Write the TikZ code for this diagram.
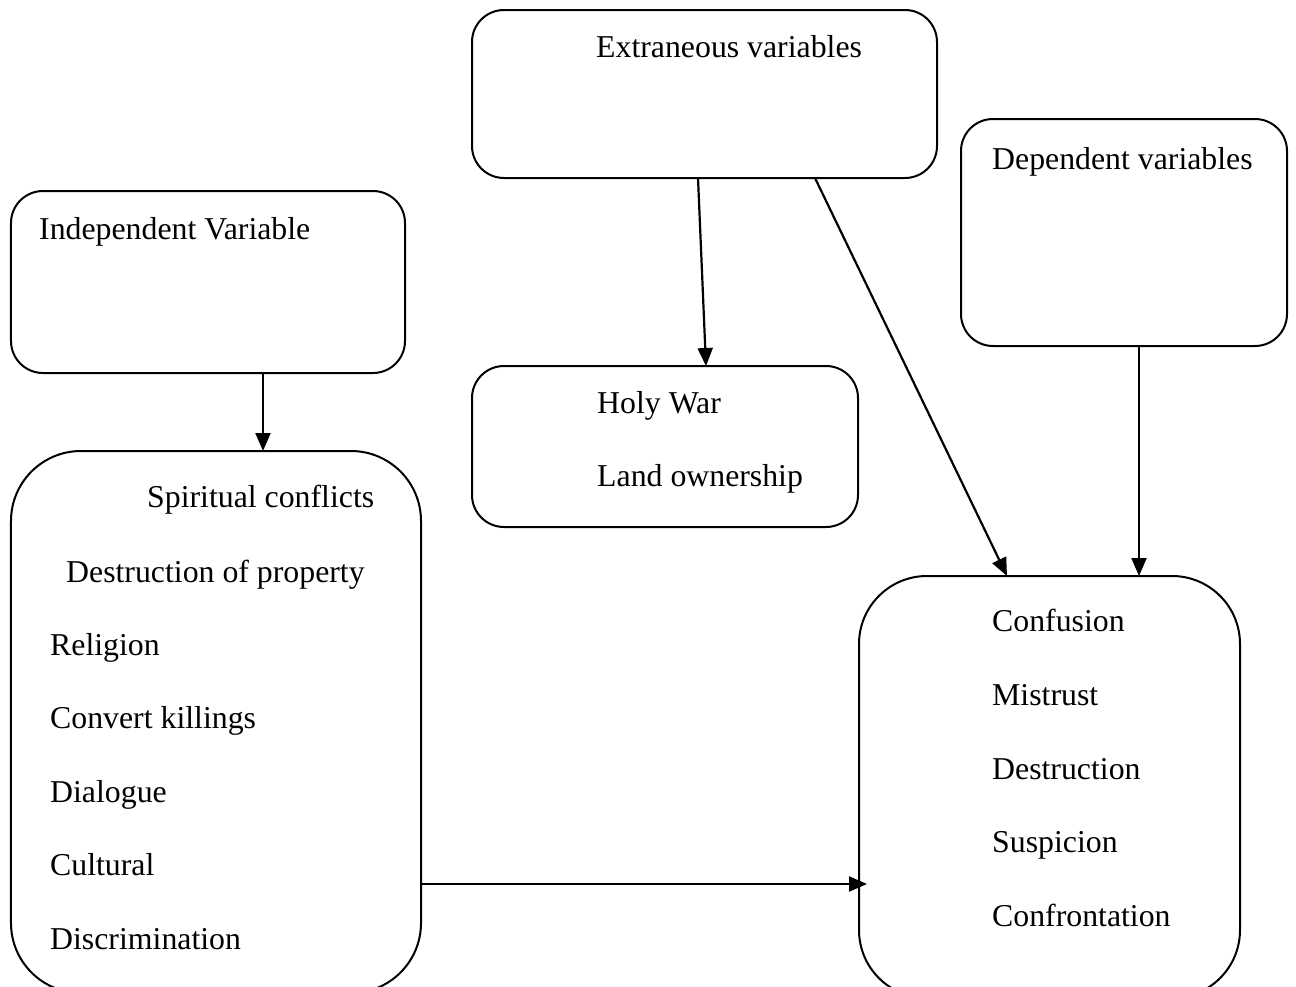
\documentclass[tikz,border=0pt]{standalone}
\usepackage{fontspec}
\setmainfont{Liberation Serif}
\usetikzlibrary{arrows.meta}
\begin{document}
\begin{tikzpicture}[x=1bp,y=-1bp,
  box/.style={draw,line width=2bp,rounded corners=#1,inner sep=0pt},
  txt/.style={anchor=base west,inner sep=0pt,font=\fontsize{31.8bp}{36bp}\selectfont},
  arr/.style={line width=2.2bp,-{Triangle[length=18bp,width=15bp]}}]
\useasboundingbox (0,0) rectangle (1296,987);
\clip (0,0) rectangle (1296,987);
% boxes
\node[box=32bp,minimum width=465bp,minimum height=168bp] (ext) at (704.5,94) {};
\node[box=32bp,minimum width=394bp,minimum height=182bp] (ind) at (208,282) {};
\node[box=32bp,minimum width=326bp,minimum height=227bp] (dep) at (1124,232.5) {};
\node[box=32bp,minimum width=386bp,minimum height=161bp] (holy) at (665,446.5) {};
\node[box=70bp,minimum width=410bp,minimum height=542bp] (left) at (216,722) {};
\node[box=68bp,minimum width=381bp,minimum height=422bp] (right) at (1049.5,787) {};
% texts
\node[txt] (t1) at (596,57) {Extraneous variables};
\node[txt] (t2) at (39,239) {Independent Variable};
\node[txt] (t3) at (992,169) {Dependent variables};
\node[txt] (t4) at (597,413) {Holy War};
\node[txt] (t5) at (597,486) {Land ownership};
\node[txt] (l1) at (147,507) {Spiritual conflicts};
\node[txt] (l2) at (66,582) {Destruction of property};
\node[txt] (l3) at (50,655) {Religion};
\node[txt] (l4) at (50,728) {Convert killings};
\node[txt] (l5) at (50,802) {Dialogue};
\node[txt] (l6) at (50,875) {Cultural};
\node[txt] (l7) at (50,949) {Discrimination};
\node[txt] (r1) at (992,631) {Confusion};
\node[txt] (r2) at (992,705) {Mistrust};
\node[txt] (r3) at (992,779) {Destruction};
\node[txt] (r4) at (992,852) {Suspicion};
\node[txt] (r5) at (992,926) {Confrontation};
% arrow end coordinates
\coordinate (a1s) at (263,373);
\coordinate (a1e) at (263,451);
\coordinate (a2s) at (698,178);
\coordinate (a2e) at (706,366);
\coordinate (a3s) at (815,178);
\coordinate (a3e) at (1007,576);
\coordinate (a4s) at (1139,346);
\coordinate (a4e) at (1139,576);
\coordinate (a5s) at (421,884);
\coordinate (a5e) at (867,884);
\draw[arr] (a1s) -- (a1e);
\draw[arr] (a2s) -- (a2e);
\draw[arr] (a3s) -- (a3e);
\draw[arr] (a4s) -- (a4e);
\draw[arr] (a5s) -- (a5e);
\end{tikzpicture}
\end{document}
